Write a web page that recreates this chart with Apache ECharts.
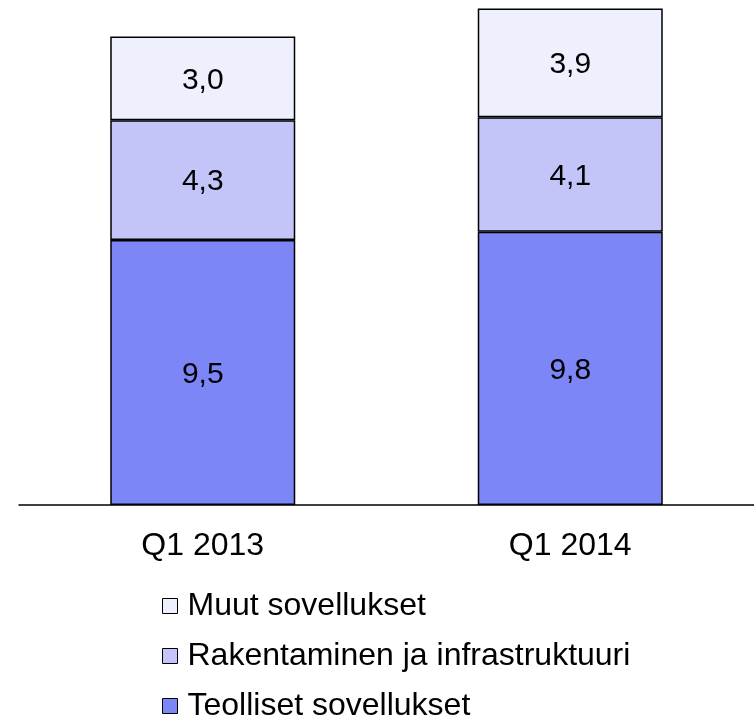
<!DOCTYPE html>
<html>
<head>
<meta charset="utf-8">
<script src="https://cdn.jsdelivr.net/npm/echarts@6/dist/echarts.min.js"></script>
<style>
  html, body { margin: 0; padding: 0; background: #fff; }
  #chart { width: 754px; height: 717px; }
</style>
</head>
<body>
<div id="chart"></div>
<script>
var categories = ['Q1 2013', 'Q1 2014'];
var teolliset = [9.5, 9.8];
var rakentaminen = [4.3, 4.1];
var muut = [3.0, 3.9];

var chart = echarts.init(document.getElementById('chart'));

function fmt(p) {
  return p.value.toFixed(1).replace('.', ',');
}

function makeSeries(name, data, color) {
  return {
    name: name,
    type: 'bar',
    stack: 'total',
    data: data,
    barWidth: 185,
    itemStyle: { color: color, borderColor: '#000', borderWidth: 1.5 },
    label: {
      show: true,
      position: 'inside',
      offset: [0, 2],
      formatter: fmt,
      color: '#000',
      fontSize: 30,
      fontFamily: 'Liberation Sans, Arial, sans-serif'
    }
  };
}

chart.setOption({
  animation: false,
  textStyle: { fontFamily: 'Liberation Sans, Arial, sans-serif' },
  grid: { left: 19, right: -7, top: 3, bottom: 212 },
  legend: {
    orient: 'vertical',
    left: 162,
    top: 590,
    height: 200,
    padding: 0,
    itemWidth: 15,
    itemHeight: 15,
    itemGap: 18,
    icon: 'rect',
    itemStyle: { borderColor: '#000', borderWidth: 1 },
    textStyle: { fontSize: 32, color: '#000', lineHeight: 32, padding: [0, 0, 0, 5] },
    data: ['Muut sovellukset', 'Rakentaminen ja infrastruktuuri', 'Teolliset sovellukset']
  },
  xAxis: {
    type: 'category',
    data: categories,
    axisLine: { lineStyle: { color: '#000', width: 1.5 } },
    axisTick: { show: false },
    axisLabel: { color: '#000', fontSize: 32, margin: 25 }
  },
  yAxis: {
    type: 'value',
    min: 0,
    max: 18,
    show: false
  },
  series: [
    makeSeries('Teolliset sovellukset', teolliset, '#7C86F6'),
    makeSeries('Rakentaminen ja infrastruktuuri', rakentaminen, '#C3C5F8'),
    makeSeries('Muut sovellukset', muut, '#EEF0FD')
  ]
});
</script>
</body>
</html>
